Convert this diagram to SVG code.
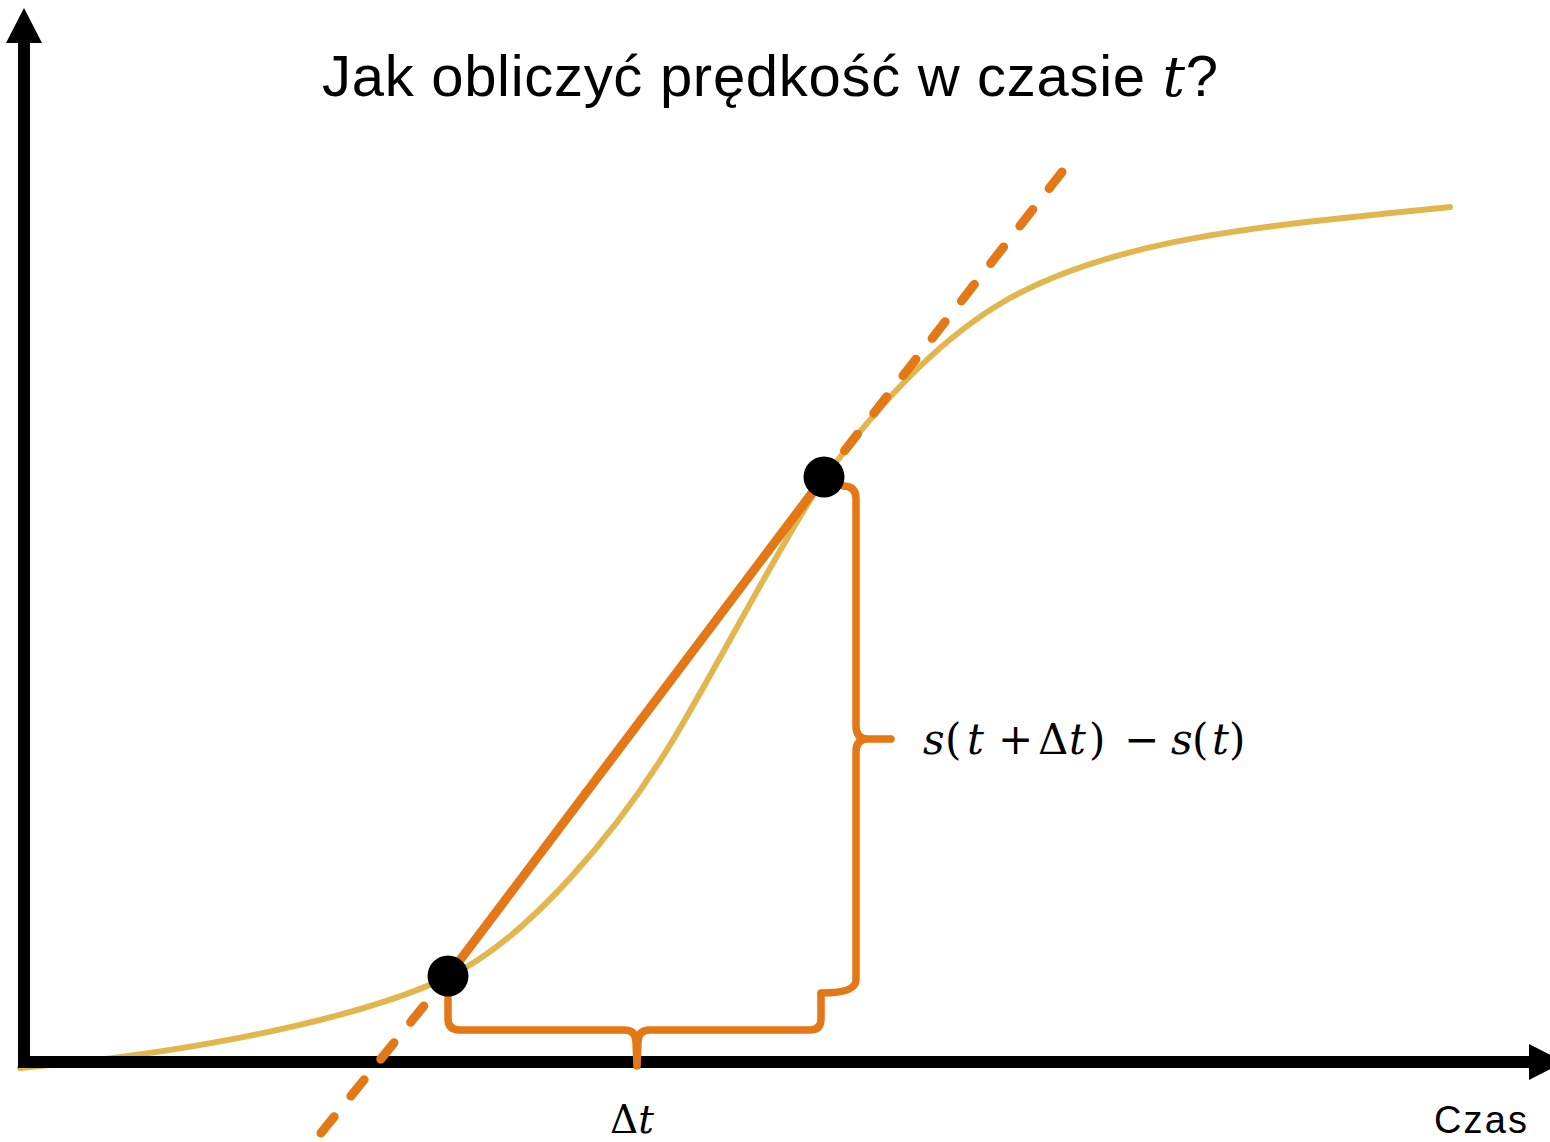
<svg xmlns="http://www.w3.org/2000/svg" width="1550" height="1142" viewBox="0 0 1550 1142">
  <style>
    .curve { fill: none; stroke: #E2B64E; stroke-width: 6; stroke-linecap: round; }
    .axis { fill: none; stroke: #000; stroke-width: 12; stroke-linejoin: miter; }
    .orange { fill: none; stroke: #E47716; stroke-linecap: round; stroke-linejoin: round; }
    .sec { stroke-width: 9; }
    .dash { stroke-width: 9; stroke-dasharray: 21 26.5; }
    .brace { stroke-width: 7.5; }
    .dot { fill: #000; }
    .title { font-family: "Liberation Sans", Arial, sans-serif; font-size: 58px; fill: #000; }
    .math { font-family: "DejaVu Serif", "Liberation Serif", serif; font-size: 42px; fill: #000; }
    .it { font-style: italic; }
    .lbl { font-family: "Liberation Sans", Arial, sans-serif; font-size: 38px; fill: #000; }
  </style>

  <g id="curve">
    <path class="curve" d="M 20,1068 C 200,1052 360,1018 448,977 C 528,939 618,831 673,740 C 713,674 788,530 823,480 C 870,415 935,340 1010,298 C 1120,238 1260,226 1450,207"/>
  </g>

  <g id="axes">
    <path class="axis" d="M 24,42 V 1062 H 1532"/>
    <polygon points="24,8 42,43 6,43" fill="#000"/>
    <polygon points="1564,1062 1529,1044 1529,1080" fill="#000"/>
  </g>

  <g id="connectors">
    <path class="orange dash" d="M 1062,172 L 824,477"/>
    <path class="orange dash" d="M 321,1133 L 448,976"/>
    <path class="orange sec" d="M 448,976 L 824,477"/>
  </g>

  <g id="brace-dt">
    <path class="orange brace" d="M 448,998 L 448,1019 Q 448,1030 460,1030 L 624,1030 Q 636,1030 636,1042 L 637,1066 L 638,1042 Q 638,1030 650,1030 L 810,1030 Q 821,1030 821,1019 L 821,994"/>
  </g>

  <g id="brace-ds">
    <path class="orange brace" d="M 821,993 Q 856,993 856,980 L 856,752 Q 856,739 868,739 L 891,739 L 868,739 Q 856,739 856,726 L 856,499 Q 856,486 843,486"/>
  </g>

  <g id="point-1">
    <circle class="dot" cx="448" cy="976" r="20.5"/>
  </g>
  <g id="point-2">
    <circle class="dot" cx="824" cy="477" r="20.5"/>
  </g>

  <g id="title">
    <text class="title" x="322" y="96" textLength="896">Jak obliczyć prędkość w czasie <tspan class="math it" style="font-size:56px">t</tspan>?</text>
  </g>

  <g id="label-ds">
    <text class="math" y="754">
      <tspan class="it" x="923">s</tspan><tspan x="945">(</tspan><tspan class="it" x="967">t</tspan><tspan x="998">+</tspan><tspan x="1038">Δ</tspan><tspan class="it" x="1069">t</tspan><tspan x="1089">)</tspan><tspan x="1124">−</tspan><tspan class="it" x="1171">s</tspan><tspan x="1192">(</tspan><tspan class="it" x="1212">t</tspan><tspan x="1229">)</tspan>
    </text>
  </g>

  <g id="label-dt">
    <text class="math" x="610" y="1133" style="font-size:39px">Δ<tspan class="it">t</tspan></text>
  </g>

  <g id="label-czas">
    <text class="lbl" x="1434" y="1133" textLength="93">Czas</text>
  </g>
</svg>
